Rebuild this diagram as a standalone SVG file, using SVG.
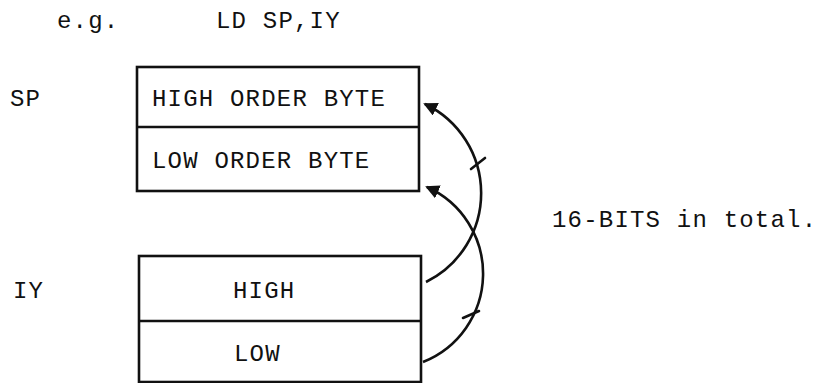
<svg xmlns="http://www.w3.org/2000/svg" width="817" height="383" viewBox="0 0 817 383">
<style>
text{font-family:"Liberation Mono","Courier New",monospace;font-size:24px;letter-spacing:1.2px;fill:#111}
.box{fill:none;stroke:#111;stroke-width:2.6}
.arc{fill:none;stroke:#111;stroke-width:2.6}
.tick{stroke:#111;stroke-width:2.6;stroke-linecap:round}
</style>
<defs>
<marker id="ah" markerWidth="14" markerHeight="14" viewBox="0 0 14 14" refX="12" refY="7" orient="auto" markerUnits="userSpaceOnUse">
<path d="M0,0 L14,7 L0,14 Z" fill="#111"/>
</marker>
</defs>
<rect width="817" height="383" fill="#fff"/>
<g id="labels">
<text x="57" y="28">e.g.</text>
<text x="216" y="28">LD SP,IY</text>
<text x="10" y="106">SP</text>
<text x="13" y="298">IY</text>
<text x="552" y="227">16-BITS in total.</text>
</g>
<g id="sp">
<rect class="box" x="137" y="67" width="282" height="124"/>
<line class="box" x1="137" y1="127" x2="419" y2="127"/>
<text x="152" y="106">HIGH ORDER BYTE</text>
<text x="152" y="168">LOW ORDER BYTE</text>
</g>
<g id="iy">
<rect class="box" x="139" y="256" width="282" height="126"/>
<line class="box" x1="139" y1="321" x2="421" y2="321"/>
<text x="233" y="298">HIGH</text>
<text x="234" y="361">LOW</text>
</g>
<g id="connectors">
<path class="arc" d="M426,282 A99,99 0 0 0 425,104" marker-end="url(#ah)"/>
<path class="arc" d="M423,362 A95,95 0 0 0 427,187" marker-end="url(#ah)"/>
<line class="tick" x1="471" y1="169" x2="485" y2="158"/>
<line class="tick" x1="463" y1="318" x2="479" y2="311"/>
</g>
</svg>
